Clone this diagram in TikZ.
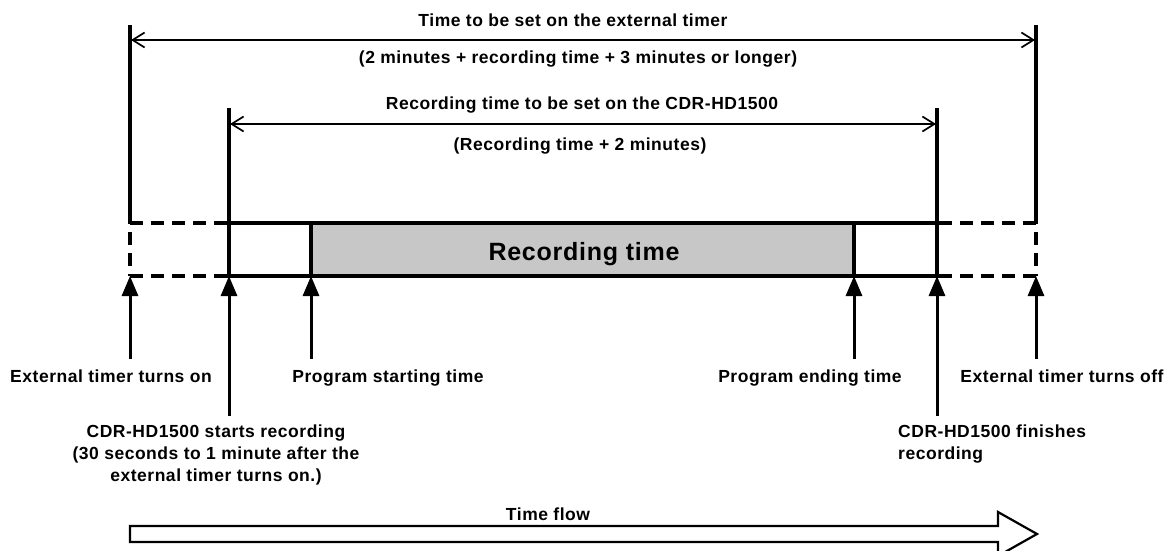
\documentclass[tikz,border=0pt]{standalone}
\usepackage{fontspec}
\setmainfont{Liberation Sans}[LetterSpace=3]
\usetikzlibrary{arrows.meta, positioning}
\newcommand{\lblsize}{\fontsize{17.5}{22}\selectfont\bfseries}
\newcommand{\bigsize}{\fontsize{25}{30}\selectfont\bfseries}

\begin{document}
\begin{tikzpicture}[
  x=1pt, y=-1pt,
  lbl/.style={font=\lblsize, inner sep=0pt, anchor=base},
  blk/.style={font=\lblsize, inner sep=0pt, align=left, anchor=north west},
  dim/.style={{Straight Barb[length=12pt,width=15pt]}-{Straight Barb[length=12pt,width=15pt]},
              line width=1.7pt},
  edge/.style={line width=3.2pt},
  dashline/.style={line width=3.2pt, dash pattern=on 13pt off 8pt},
  up/.style={-{Triangle[length=20pt,width=16pt]}, line width=3pt}
]
  \useasboundingbox (0,0) rectangle (1168,551);

  \coordinate (topOn) at (130,25);
  \coordinate (topOff) at (1036,25);
  \coordinate (topStart) at (229,108);
  \coordinate (topFin) at (937,108);

  \coordinate (tOn) at (130,223);    \coordinate (bOn) at (130,276);
  \coordinate (tStart) at (229,223); \coordinate (bStart) at (229,276);
  \coordinate (tProgS) at (311,223); \coordinate (bProgS) at (311,276);
  \coordinate (tProgE) at (854,223); \coordinate (bProgE) at (854,276);
  \coordinate (tFin) at (937,223);   \coordinate (bFin) at (937,276);
  \coordinate (tOff) at (1036,223);  \coordinate (bOff) at (1036,276);

  \coordinate (dimOnL) at (131,40);   \coordinate (dimOnR) at (1035,40);
  \coordinate (dimRecL) at (230,124); \coordinate (dimRecR) at (936,124);

  \coordinate (aOn) at (130,359);
  \coordinate (aStart) at (229,416);
  \coordinate (aProgS) at (311,359);
  \coordinate (aProgE) at (854,359);
  \coordinate (aFin) at (937,416);
  \coordinate (aOff) at (1036,359);

  % dimension lines
  \draw[edge] (topOn) -- (tOn);
  \draw[edge] (topOff) -- (tOff);
  \draw[edge] (topStart) -- (tStart);
  \draw[edge] (topFin) -- (tFin);
  \draw[dim] (dimOnL) -- (dimOnR);
  \draw[dim] (dimRecL) -- (dimRecR);

  \node[lbl] (ttlTimer) at (573,27) {Time to be set on the external timer};
  \node[lbl] (ttlTimerSub) at (578,64) {(2 minutes + recording time + 3 minutes or longer)};
  \node[lbl] (ttlRec) at (582,110) {Recording time to be set on the CDR-HD1500};
  \node[lbl] (ttlRecSub) at (580,150) {(Recording time + 2 minutes)};

  % time band
  \fill[black!22] (tProgS) rectangle (bProgE);
  \draw[edge] (tStart) rectangle (bFin);
  \draw[edge] (tProgS) -- (bProgS);
  \draw[edge] (tProgE) -- (bProgE);
  \draw[dashline] (tOn) -- (tStart);
  \draw[dashline] (bOn) -- (bStart);
  \draw[dashline] (tOff) -- (tFin);
  \draw[dashline] (bOff) -- (bFin);
  \draw[dashline, dash phase=12pt] (tOn) -- (bOn);
  \draw[dashline, dash phase=12pt] (tOff) -- (bOff);
  \node[font=\bigsize, inner sep=0pt, anchor=base] (recLbl) at (584,260) {Recording time};

  % events
  \draw[up] (aOn) -- (bOn);
  \draw[up] (aStart) -- (bStart);
  \draw[up] (aProgS) -- (bProgS);
  \draw[up] (aProgE) -- (bProgE);
  \draw[up] (aFin) -- (bFin);
  \draw[up] (aOff) -- (bOff);

  \node[lbl] (lblOn) at (111,382) {External timer turns on};
  \node[lbl] (lblProgS) at (388,382) {Program starting time};
  \node[lbl] (lblProgE) at (810,382) {Program ending time};
  \node[lbl] (lblOff) at (1062,382) {External timer turns off};
  \node[lbl, align=center, anchor=north] (lblStart) at (216,425)
    {CDR-HD1500 starts recording\\(30 seconds to 1 minute after the\\external timer turns on.)};
  \node[blk] (lblFin) at (898,425) {CDR-HD1500 finishes\\recording};

  % time flow
  \draw[line width=2.2pt, line join=miter] (130,526) -- (998,526) -- (998,512) -- (1037,534)
    -- (998,556) -- (998,542) -- (130,542) -- cycle;
  \node[lbl] (lblFlow) at (548,520) {Time flow};
\end{tikzpicture}
\end{document}
